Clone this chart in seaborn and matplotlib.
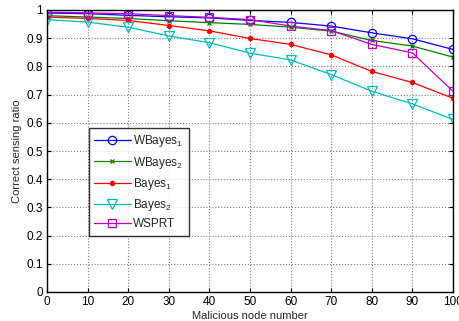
import matplotlib
matplotlib.use("Agg")
import matplotlib.pyplot as plt
import seaborn as sns
import pandas as pd

nodes = [0, 10, 20, 30, 40, 50, 60, 70, 80, 90, 100]
wbayes1 = [0.989, 0.987, 0.981, 0.976, 0.972, 0.963, 0.956, 0.943, 0.919, 0.898, 0.860]
wbayes2 = [0.980, 0.975, 0.970, 0.962, 0.955, 0.949, 0.939, 0.925, 0.892, 0.872, 0.833]
bayes1 = [0.975, 0.970, 0.963, 0.945, 0.926, 0.899, 0.878, 0.841, 0.782, 0.743, 0.687]
bayes2 = [0.966, 0.957, 0.939, 0.908, 0.884, 0.847, 0.823, 0.771, 0.712, 0.667, 0.612]
wsprt = [0.992, 0.990, 0.987, 0.980, 0.974, 0.966, 0.943, 0.927, 0.878, 0.848, 0.712]

labels = ["WBayes$_1$", "WBayes$_2$", "Bayes$_1$", "Bayes$_2$", "WSPRT"]
series = [wbayes1, wbayes2, bayes1, bayes2, wsprt]
colors = ["#0000ff", "#008000", "#ff0000", "#00bfbf", "#bf00bf"]
markers = ["o", "x", ".", "v", "s"]
msizes = [6, 3.5, 6, 7, 6]

sns.set_style("white")
plt.rcParams["font.family"] = ["Liberation Sans", "DejaVu Sans"]
plt.rcParams["mathtext.fontset"] = "custom"
plt.rcParams["mathtext.rm"] = "Liberation Sans"
plt.rcParams["mathtext.it"] = "Liberation Sans"

fig = plt.figure(figsize=(4.60, 3.21), dpi=100)
ax = fig.add_axes([47 / 460, 29 / 321, 406 / 460, 282 / 321])

for lab, vals, c, m, ms in zip(labels, series, colors, markers, msizes):
    df = pd.DataFrame({"x": nodes, "y": vals})
    filled = m in (".", "x")
    sns.lineplot(data=df, x="x", y="y", ax=ax, color=c, marker=m,
                 markersize=ms, linewidth=0.9, label=lab,
                 markerfacecolor=c if filled else "none",
                 markeredgecolor=c, markeredgewidth=0.9)

ax.set_xlim(0, 100)
ax.set_ylim(0, 1)
ax.set_xticks(range(0, 101, 10))
ax.set_yticks([i / 10 for i in range(11)])
ax.set_yticklabels(["0", "0.1", "0.2", "0.3", "0.4", "0.5", "0.6", "0.7", "0.8", "0.9", "1"])
ax.grid(True, color="#808080", linestyle=":", linewidth=0.8)
ax.tick_params(direction="in", length=3, labelsize=8.5, top=True, right=True,
               bottom=True, left=True, colors="black", pad=3)
for s in ax.spines.values():
    s.set_color("black")
    s.set_linewidth(1.0)
ax.set_xlabel("Malicious node number", fontsize=8, labelpad=2)
ax.set_ylabel("Correct sensing ratio", fontsize=8, labelpad=3)

leg = ax.legend(loc="upper left", bbox_to_anchor=(0.103, 0.582), fontsize=8.5,
                frameon=True, fancybox=False, edgecolor="black",
                borderpad=0.45, labelspacing=0.45, handlelength=3.1,
                handletextpad=0.2, borderaxespad=0)
leg.get_frame().set_linewidth(1.0)

fig.savefig("out.png", dpi=100)
